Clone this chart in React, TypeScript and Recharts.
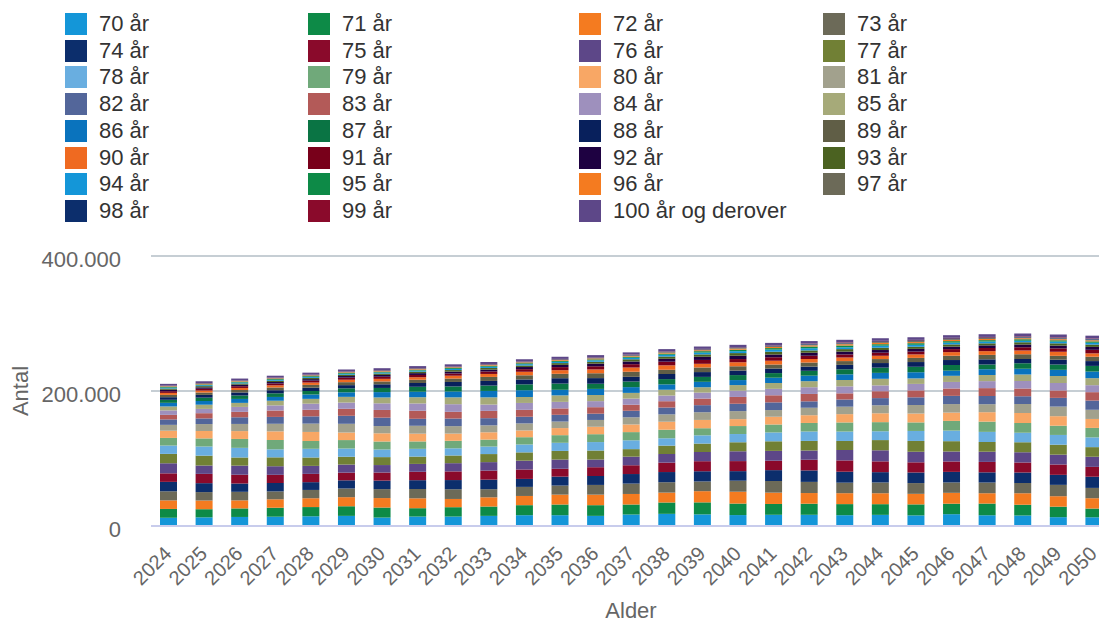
import React from 'react'
import { BarChart, Bar, XAxis, YAxis, CartesianGrid } from 'recharts'

const years = [
  '2024', '2025', '2026', '2027', '2028', '2029', '2030', '2031', '2032', '2033', '2034', '2035', '2036', '2037',
  '2038', '2039', '2040', '2041', '2042', '2043', '2044', '2045', '2046', '2047', '2048', '2049', '2050',
]

const ageLabels = [
  '70 år', '71 år', '72 år', '73 år', '74 år', '75 år', '76 år', '77 år', '78 år', '79 år',
  '80 år', '81 år', '82 år', '83 år', '84 år', '85 år', '86 år', '87 år', '88 år', '89 år',
  '90 år', '91 år', '92 år', '93 år', '94 år', '95 år', '96 år', '97 år', '98 år', '99 år',
  '100 år og derover',
]

const ageColors = [
  '#1496d8', '#0d8a47', '#f47b20', '#6c6a58', '#0c2e6c', '#8a0a2b', '#5d4788', '#718035',
  '#69aee0', '#70a97a', '#f8a765', '#a2a18d', '#53669a', '#b35a58', '#9e90bd', '#a6aa79',
  '#0a73bd', '#0a7444', '#08205c', '#605e46', '#ef6a21', '#78001a', '#1e0141', '#4b6221',
  '#1496d8', '#0d8a47', '#f47b20', '#6c6a58', '#0c2e6c', '#8a0a2b', '#5d4788',
]

// antal personer pr. alder, 2024-2050
const age70 = [12200, 12800, 13400, 13800, 14400, 15000, 12500, 14000, 14000, 15000, 16000, 16000, 15000, 17000, 18000, 17200, 16200, 16600, 16600, 16000, 16500, 15700, 17500, 15900, 15700, 13100, 12900]
const age71 = [13070, 12080, 12670, 13270, 13660, 14260, 14850, 12380, 13860, 13860, 14850, 15840, 15840, 14850, 16830, 17820, 17030, 16040, 16430, 16430, 15840, 16340, 15540, 17330, 15740, 15540, 12970]
const age72 = [12680, 12870, 11900, 12480, 13070, 13460, 14040, 14630, 12190, 13650, 13650, 14630, 15600, 15600, 14630, 16580, 17550, 16770, 15800, 16190, 16190, 15600, 16090, 15310, 17060, 15500, 15310]
const age73 = [13440, 12480, 12670, 11710, 12290, 12860, 13250, 13820, 14400, 12000, 13440, 13440, 14400, 15360, 15360, 14400, 16320, 17280, 16510, 15550, 15940, 15940, 15360, 15840, 15070, 16800, 15260]
const age74 = [13990, 13230, 12290, 12470, 11530, 12100, 12660, 13040, 13610, 14180, 11810, 13230, 13230, 14180, 15120, 15120, 14180, 16070, 17010, 16250, 15310, 15690, 15690, 15120, 15590, 14840, 16540]
const age75 = [12650, 13760, 13020, 12090, 12280, 11350, 11900, 12460, 12830, 13390, 13950, 11630, 13020, 13020, 13950, 14880, 14880, 13950, 15810, 16740, 16000, 15070, 15440, 15440, 14880, 15350, 14600]
const age76 = [14920, 12380, 13470, 12740, 11830, 12010, 11100, 11650, 12190, 12560, 13100, 13650, 11380, 12740, 12740, 13650, 14560, 14560, 13650, 15470, 16380, 15650, 14740, 15110, 15110, 14560, 15020]
const age77 = [13880, 14600, 12100, 13170, 12460, 11570, 11750, 10860, 11390, 11930, 12280, 12820, 13350, 11130, 12460, 12460, 13350, 14240, 14240, 13350, 15130, 16020, 15310, 14420, 14770, 14770, 14240]
const age78 = [12350, 13570, 14270, 11830, 12880, 12180, 11310, 11480, 10610, 11140, 11660, 12010, 12530, 13050, 10880, 12180, 12180, 13050, 13920, 13920, 13050, 14790, 15660, 14960, 14090, 14440, 14440]
const age79 = [11320, 12000, 13180, 13860, 11490, 12510, 11830, 10990, 11150, 10310, 10820, 11320, 11660, 12170, 12680, 10560, 11830, 11830, 12680, 13520, 13520, 12680, 14370, 15210, 14530, 13690, 14030]
const age80 = [10660, 10990, 11640, 12790, 13450, 11150, 12140, 11480, 10660, 10820, 10000, 10500, 10990, 11320, 11810, 12300, 10250, 11480, 11480, 12300, 13120, 13120, 12300, 13940, 14760, 14100, 13280]
const age81 = [8690, 10270, 10590, 11220, 12320, 12960, 10740, 11690, 11060, 10270, 10430, 9640, 10110, 10590, 10900, 11380, 11850, 9880, 11060, 11060, 11850, 12640, 12640, 11850, 13430, 14220, 13590]
const age82 = [8060, 8360, 9880, 10180, 10790, 11860, 12460, 10340, 11250, 10640, 9880, 10030, 9270, 9730, 10180, 10490, 10940, 11400, 9500, 10640, 10640, 11400, 12160, 12160, 11400, 12920, 13680]
const age83 = [6720, 7740, 8030, 9490, 9780, 10370, 11390, 11970, 9930, 10800, 10220, 9490, 9640, 8910, 9340, 9780, 10070, 10510, 10950, 9130, 10220, 10220, 10950, 11680, 11680, 10950, 12410]
const age84 = [6620, 6350, 7310, 7590, 8970, 9250, 9800, 10760, 11320, 9380, 10210, 9660, 8970, 9110, 8420, 8830, 9250, 9520, 9940, 10350, 8630, 9660, 9660, 10350, 11040, 11040, 10350]
const age85 = [5850, 6240, 5980, 6890, 7150, 8450, 8710, 9230, 10140, 10660, 8840, 9620, 9100, 8450, 8580, 7930, 8320, 8710, 8970, 9360, 9750, 8130, 9100, 9100, 9750, 10400, 10400]
const age86 = [5370, 5490, 5860, 5610, 6470, 6710, 7930, 8170, 8660, 9520, 10000, 8300, 9030, 8540, 7930, 8050, 7440, 7810, 8170, 8420, 8780, 9150, 7630, 8540, 8540, 9150, 9760]
const age87 = [4480, 4930, 5040, 5380, 5150, 5940, 6160, 7280, 7500, 7950, 8740, 9180, 7620, 8290, 7840, 7280, 7390, 6830, 7170, 7500, 7730, 8060, 8400, 7000, 7840, 7840, 8400]
const age88 = [3880, 4080, 4490, 4590, 4900, 4690, 5410, 5610, 6630, 6830, 7240, 7960, 8360, 6940, 7550, 7140, 6630, 6730, 6220, 6530, 6830, 7040, 7340, 7650, 6380, 7140, 7140]
const age89 = [3400, 3500, 3680, 4050, 4140, 4420, 4230, 4880, 5060, 5980, 6160, 6530, 7180, 7540, 6260, 6810, 6440, 5980, 6070, 5610, 5890, 6160, 6350, 6620, 6900, 5750, 6440]
const age90 = [2960, 2960, 3040, 3200, 3520, 3600, 3840, 3680, 4240, 4400, 5200, 5360, 5680, 6240, 6560, 5440, 5920, 5600, 5200, 5280, 4880, 5120, 5360, 5520, 5760, 6000, 5000]
const age91 = [2520, 2590, 2590, 2660, 2800, 3080, 3150, 3360, 3220, 3710, 3850, 4550, 4690, 4970, 5460, 5740, 4760, 5180, 4900, 4550, 4620, 4270, 4480, 4690, 4830, 5040, 5250]
const age92 = [2160, 2160, 2220, 2220, 2280, 2400, 2640, 2700, 2880, 2760, 3180, 3300, 3900, 4020, 4260, 4680, 4920, 4080, 4440, 4200, 3900, 3960, 3660, 3840, 4020, 4140, 4320]
const age93 = [1750, 1800, 1800, 1850, 1850, 1900, 2000, 2200, 2250, 2400, 2300, 2650, 2750, 3250, 3350, 3550, 3900, 4100, 3400, 3700, 3500, 3250, 3300, 3050, 3200, 3350, 3450]
const age94 = [1360, 1400, 1440, 1440, 1480, 1480, 1520, 1600, 1760, 1800, 1920, 1840, 2120, 2200, 2600, 2680, 2840, 3120, 3280, 2720, 2960, 2800, 2600, 2640, 2440, 2560, 2680]
const age95 = [1060, 1090, 1120, 1150, 1150, 1180, 1180, 1220, 1280, 1410, 1440, 1540, 1470, 1700, 1760, 2080, 2140, 2270, 2500, 2620, 2180, 2370, 2240, 2080, 2110, 1950, 2050]
const age96 = [770, 790, 820, 840, 860, 860, 890, 890, 910, 960, 1060, 1080, 1150, 1100, 1270, 1320, 1560, 1610, 1700, 1870, 1970, 1630, 1780, 1680, 1560, 1580, 1460]
const age97 = [560, 580, 590, 610, 630, 650, 650, 670, 670, 680, 720, 790, 810, 860, 830, 950, 990, 1170, 1210, 1280, 1400, 1480, 1220, 1330, 1260, 1170, 1190]
const age98 = [420, 430, 450, 460, 480, 490, 500, 500, 520, 520, 530, 560, 620, 630, 670, 640, 740, 770, 910, 940, 990, 1090, 1150, 950, 1040, 980, 910]
const age99 = [290, 300, 310, 320, 330, 340, 350, 360, 360, 370, 370, 380, 400, 440, 450, 480, 460, 530, 550, 650, 670, 710, 780, 820, 680, 740, 700]
const age100plus = [2500, 2600, 2600, 2700, 2800, 2800, 2900, 3000, 3000, 3100, 3200, 3200, 3300, 3300, 3400, 3500, 3500, 3600, 3700, 3700, 3800, 3900, 3900, 4000, 4100, 4100, 4200]

const ageValues = [
  age70, age71, age72, age73, age74, age75, age76, age77, age78, age79,
  age80, age81, age82, age83, age84, age85, age86, age87, age88, age89,
  age90, age91, age92, age93, age94, age95, age96, age97, age98, age99,
  age100plus,
]

const yTicks = [0, 200000, 400000]

const data = years.map((year, i) => {
  const row: Record<string, string | number> = { year }
  ageValues.forEach((values, s) => {
    row['a' + s] = values[i]
  })
  return row
})

const FONT = '"Liberation Sans", Arial, sans-serif'
const legendCols = [65, 308, 579, 823]

const formatThousands = (v: number) => String(v).replace(/\B(?=(\d{3})+(?!\d))/g, '.')

const YearTick = ({ x, y, payload }: any) => (
  <g transform={`translate(${x + 4},${y + 29})`}>
    <text textAnchor="end" transform="rotate(-45)" fill="#666" fontSize={20} fontFamily={FONT}>
      {payload.value}
    </text>
  </g>
)

export default function App() {
  return (
    <div style={{ position: 'absolute', left: 0, top: 0, width: 1099, height: 622, overflow: 'hidden', background: '#fff', fontFamily: FONT }}>
      {/* Legend */}
      {ageLabels.map((label, i) => (
        <div
          key={label}
          style={{
            position: 'absolute',
            left: legendCols[i % 4],
            top: 13 + Math.floor(i / 4) * 26.7,
            height: 22,
            display: 'flex',
            alignItems: 'center',
            whiteSpace: 'nowrap',
          }}
        >
          <div style={{ width: 22, height: 22, background: ageColors[i], marginRight: 12 }} />
          <span style={{ fontSize: 22, color: '#333', lineHeight: 1 }}>{label}</span>
        </div>
      ))}

      <div style={{ position: 'absolute', left: 0, top: 0 }}>
        <BarChart width={1120} height={622} data={data} margin={{ top: 256, right: 8, bottom: 0, left: 0 }}>
          <CartesianGrid vertical={false} stroke="#b3bec6" strokeWidth={1.5} />
          <XAxis
            dataKey="year"
            height={96}
            interval={0}
            tick={<YearTick />}
            tickLine={false}
            tickSize={0}
            tickMargin={0}
            axisLine={{ stroke: '#c8ccec', strokeWidth: 2 }}
          />
          <YAxis
            width={151}
            domain={[0, 400000]}
            ticks={yTicks}
            tickFormatter={formatThousands}
            tick={{ fontSize: 22, fill: '#666', fontFamily: FONT, dy: 3 }}
            axisLine={false}
            tickLine={false}
            tickSize={0}
            tickMargin={30}
          />
          {ageLabels.map((label, s) => (
            <Bar key={label} dataKey={'a' + s} name={label} stackId="alder" fill={ageColors[s]} barSize={17} isAnimationActive={false} />
          ))}
        </BarChart>
      </div>

      {/* Axis titles */}
      <div style={{ position: 'absolute', left: 21, top: 391, transform: 'translate(-50%, -50%) rotate(-90deg)', fontSize: 22, color: '#666', lineHeight: 1 }}>
        Antal
      </div>
      <div style={{ position: 'absolute', left: 631, top: 611, transform: 'translate(-50%, -50%)', fontSize: 22, color: '#666', lineHeight: 1 }}>
        Alder
      </div>
    </div>
  )
}
